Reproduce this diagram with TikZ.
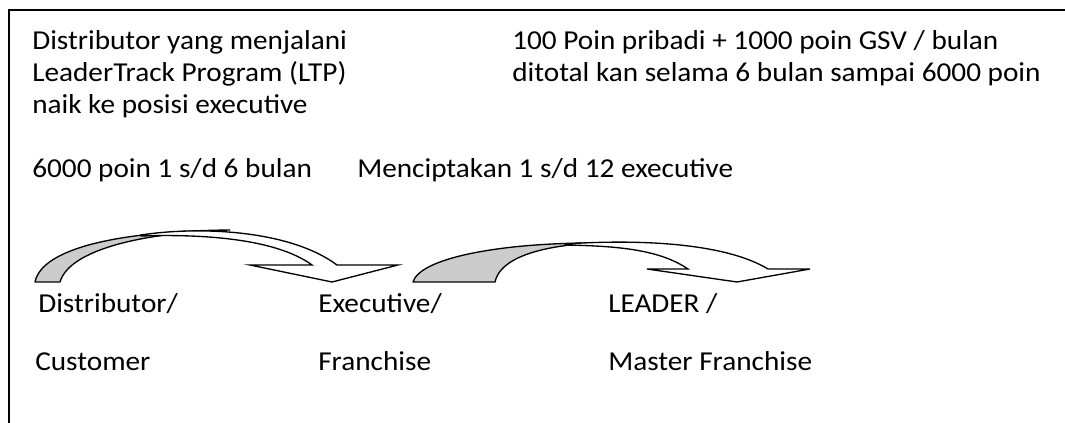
\documentclass[tikz,border=0pt]{standalone}
\usepackage{fontspec}
\setmainfont{Carlito}
\usepackage{graphicx}
\definecolor{bandgray}{HTML}{CCCCCC}
\newcommand{\sx}[1]{\scalebox{1.07}[1]{#1}}
\tikzset{
  txt/.style={anchor=base west, inner sep=0pt, font=\fontsize{20.5}{24}\selectfont},
  frameline/.style={line width=1.5pt, black},
  band/.style={draw=black, line width=1pt, line join=round, fill=bandgray},
  front/.style={draw=black, line width=1pt, line join=miter, fill=white},
}
\begin{document}
\begin{tikzpicture}[x=0.75pt, y=-0.75pt]
\useasboundingbox (0,0) rectangle (1065,423);
% frame (top and left edges visible)
\coordinate (fbl) at (9,423);
\coordinate (ftl) at (9,10);
\coordinate (ftr) at (1065,10);
\draw[frameline] (fbl) -- (ftl) -- (ftr);

% top-left block
\node[txt] (a1) at (32,50) {\sx{Distributor yang menjalani}};
\node[txt] (a2) at (32,82) {\sx{LeaderTrack Program (LTP)}};
\node[txt] (a3) at (32,114) {\sx{naik ke posisi executive}};
% top-right block
\node[txt] (b1) at (512,50) {\sx{100 Poin pribadi + 1000 poin GSV / bulan}};
\node[txt] (b2) at (512,82) {\sx{ditotal kan selama 6 bulan sampai 6000 poin}};
% middle row
\node[txt] (c1) at (32,178) {\sx{6000 poin 1 s/d 6 bulan}};
\node[txt] (c2) at (357,178) {\sx{Menciptakan 1 s/d 12 executive}};

% curved arrow 1
\path[band] (35,282) .. controls (42,248) and (120,231) .. (230,230)
  .. controls (150,232) and (70,248) .. (60,282) -- cycle;
\path[front] (141,235) .. controls (200,226) and (290,230) .. (337,265)
  -- (398,265) -- (332,282) -- (250,265) -- (312,265)
  .. controls (275,238) and (200,234) .. (141,236) -- cycle;

% curved arrow 2
\path[band] (413,282) .. controls (420,258) and (500,243) .. (593,243)
  .. controls (540,246) and (500,258) .. (495,282) -- cycle;
\path[front] (565,244) .. controls (640,239) and (725,243) .. (768,269)
  -- (810,269) -- (737,282) -- (647,269) -- (688,269)
  .. controls (660,250) and (620,246) .. (565,245) -- cycle;

% bottom labels
\node[txt] (d1) at (38,313) {\sx{Distributor/}};
\node[txt] (d2) at (318,313) {\sx{Executive/}};
\node[txt] (d3) at (608,313) {\sx{LEADER /}};
\node[txt] (e1) at (35,371) {\sx{Customer}};
\node[txt] (e2) at (318,371) {\sx{Franchise}};
\node[txt] (e3) at (608,371) {\sx{Master Franchise}};
\end{tikzpicture}
\end{document}
